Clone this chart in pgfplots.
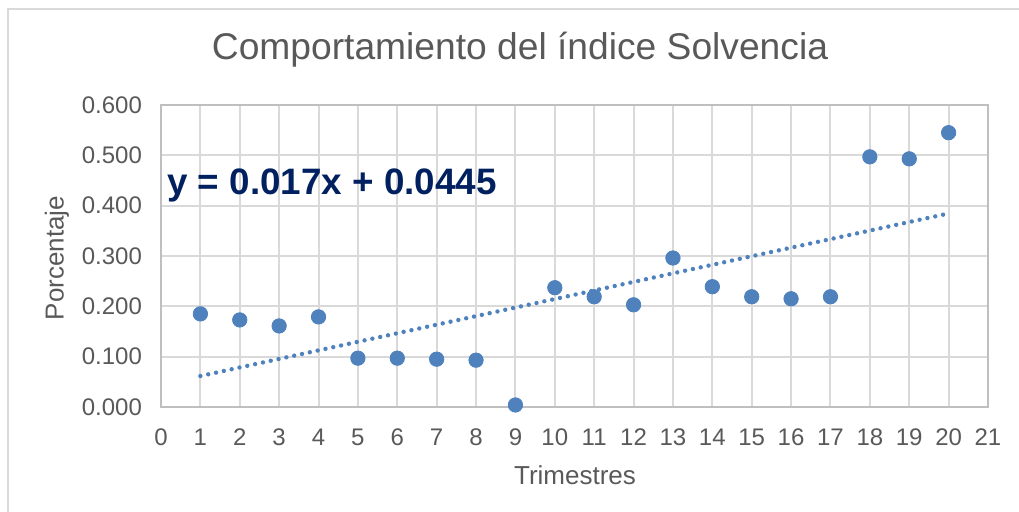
\documentclass[border=0pt]{standalone}
\usepackage{pgfplots}
\pgfplotsset{compat=1.18}
\usepackage{fontspec}
\setmainfont{Liberation Sans}
\definecolor{pt}{RGB}{79,129,189}
\definecolor{gridc}{RGB}{217,217,217}
\definecolor{axc}{RGB}{191,191,191}
\definecolor{txt}{RGB}{89,89,89}
\definecolor{eqc}{RGB}{0,32,96}
\begin{document}
\begin{tikzpicture}
\path[use as bounding box] (0,0) rectangle (509.5pt,256pt);
\draw[gridc, line width=1pt] (4pt,0) -- (4pt,251.5pt) -- (509.5pt,251.5pt);
\begin{axis}[
  at={(80.5pt,52.5pt)}, anchor=south west,
  scale only axis, width=413.5pt, height=151pt,
  xmin=0, xmax=21, ymin=0, ymax=0.6,
  xtick={0,1,...,21}, ytick={0,0.1,...,0.6},
  grid=major, major grid style={gridc, line width=1pt},
  axis line style={axc, line width=1pt},
  tick style={draw=none},
  /pgf/number format/assume math mode=true,
  yticklabel={\pgfmathprintnumber[fixed,fixed zerofill,precision=3]{\tick}},
  ticklabel style={font=\fontsize{12}{14}\selectfont, text=txt},
  xticklabel style={yshift=-7.5pt},
  yticklabel style={xshift=-6pt},
  clip=false,
]
\addplot[pt, line width=2.2pt, dash pattern=on 0pt off 4pt, line cap=round]
  coordinates {(1,0.0615) (20,0.3845)};
\addplot[only marks, mark=*, mark size=3.6pt, mark options={fill=pt, draw=pt}]
  coordinates {
  (1,0.185) (2,0.173) (3,0.161) (4,0.179) (5,0.097) (6,0.097) (7,0.095)
  (8,0.093) (9,0.004) (10,0.237) (11,0.219) (12,0.203) (13,0.296)
  (14,0.239) (15,0.219) (16,0.215) (17,0.219) (18,0.497) (19,0.493) (20,0.545)};
\node[anchor=west, inner sep=0pt, text=eqc, font=\fontsize{18.4}{22}\bfseries]
  at (axis cs:0.15,0.44) {y = 0.017x + 0.0445};
\end{axis}
\node[text=txt, font=\fontsize{18.6}{22}\selectfont] at (260pt,231pt) {Comportamiento del índice Solvencia};
\node[text=txt, font=\fontsize{13}{15}\selectfont] at (287.5pt,18.5pt) {Trimestres};
\node[text=txt, font=\fontsize{13}{15}\selectfont, rotate=90] at (28.5pt,127pt) {Porcentaje};
\end{tikzpicture}
\end{document}
